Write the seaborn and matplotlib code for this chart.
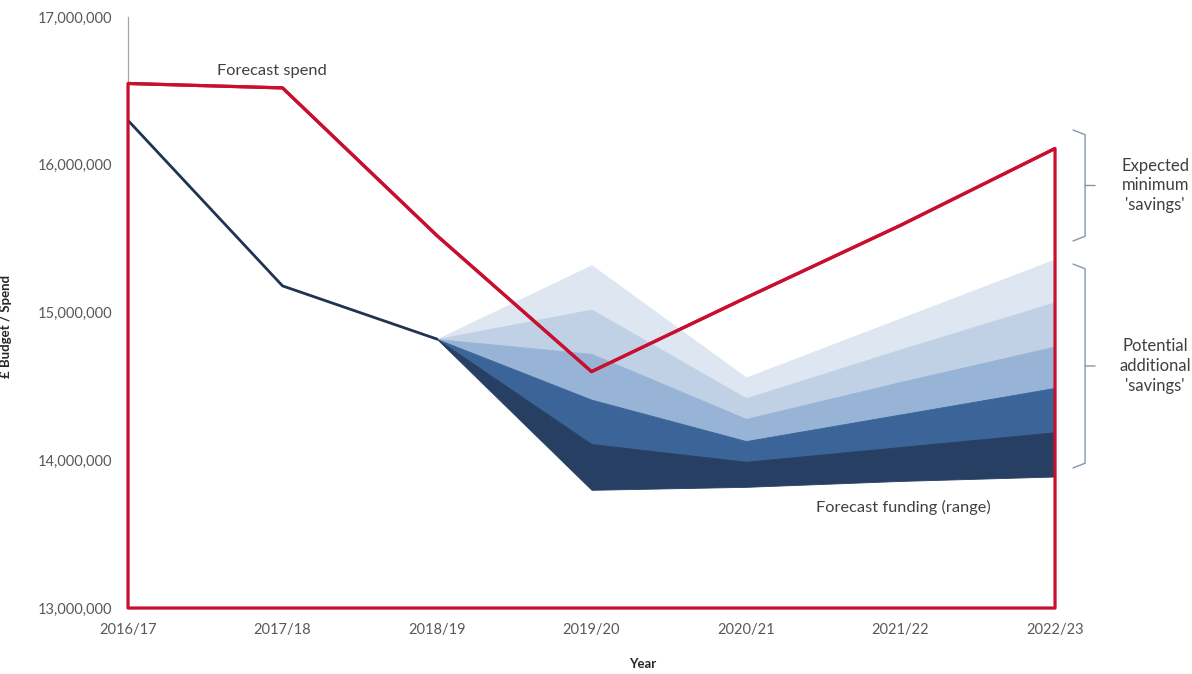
import numpy as np
import pandas as pd
import matplotlib.pyplot as plt
import seaborn as sns

# Chart data
years = ["2016/17", "2017/18", "2018/19", "2019/20", "2020/21", "2021/22", "2022/23"]
spend = [16550000, 16520000, 15520000, 14600000, 15100000, 15590000, 16110000]
funding = [16300000, 15180000, 14820000]

# Forecast funding range from 2018/19 on, band edges from top to bottom
fanEdges = [
    [14820000, 15320000, 14560000, 14960000, 15360000],
    [14820000, 15020000, 14420000, 14750000, 15070000],
    [14820000, 14720000, 14280000, 14530000, 14770000],
    [14820000, 14410000, 14130000, 14310000, 14490000],
    [14820000, 14110000, 13990000, 14090000, 14190000],
    [14820000, 13800000, 13820000, 13860000, 13890000],
]
fanColours = ["#dde6f1", "#c0d1e6", "#97b3d5", "#3b6499", "#263f63"]

red = "#c8102e"
navy = "#1f3452"
grey = "#595959"

sns.set_style("white")
plt.rcParams["font.family"] = ["Lato", "DejaVu Sans"]

fig = plt.figure(figsize=(11.92, 6.74), dpi=100)
ax = fig.add_axes([0.1074, 0.0979, 0.7777, 0.8769])

xpos = np.arange(len(years))
fanX = xpos[2:]

# fan bands
for i in range(len(fanColours)):
    ax.fill_between(fanX, fanEdges[i + 1], fanEdges[i], facecolor=fanColours[i],
                    edgecolor=fanColours[i], lw=0.6, zorder=2)

# funding line up to 2018/19
fundDf = pd.DataFrame({"year": xpos[:3], "value": funding})
sns.lineplot(data=fundDf, x="year", y="value", ax=ax, color=navy, lw=2.0, zorder=3)

# forecast spend, drawn as an unfilled area like the original
spendDf = pd.DataFrame({"year": xpos, "value": spend})
sns.lineplot(data=spendDf, x="year", y="value", ax=ax, color=red, lw=2.3, zorder=4)
ax.fill_between(xpos, 13000000, spend, facecolor="none", edgecolor=red, lw=2.3,
                zorder=4, clip_on=False)

ax.set_xlim(0, len(years) - 1)
ax.set_ylim(13000000, 17000000)
ax.set_xticks(xpos)
ax.set_xticklabels(years)
ax.set_yticks(np.arange(13000000, 17000001, 1000000))
ax.yaxis.set_major_formatter(plt.FuncFormatter(lambda v, p: f"{v:,.0f}"))

ax.tick_params(axis="x", length=4, width=0.8, color="#a6a6a6", pad=7, labelsize=10.5, labelcolor=grey)
ax.tick_params(axis="y", length=0, pad=11, labelsize=10.5, labelcolor=grey)
for s in ["top", "right"]:
    ax.spines[s].set_visible(False)
for s in ["left", "bottom"]:
    ax.spines[s].set_color("#a6a6a6")
    ax.spines[s].set_linewidth(0.9)

ax.set_xlabel("Year", fontsize=9.5, fontweight="bold", color="#262626")
ax.xaxis.set_label_coords(0.555, -0.084)
ax.set_ylabel("£ Budget / Spend", fontsize=9.5, fontweight="bold", color="#262626")
ax.yaxis.set_label_coords(-0.125, 0.477)

# labels on the chart
ax.text(0.93, 16635000, "Forecast spend", fontsize=11.8, color="#404040", ha="center", va="center")
ax.text(5.016, 13682000, "Forecast funding (range)", fontsize=11.8, color="#404040",
        ha="center", va="center")

# braces on the right
braceColour = "#8497b0"
for top, bottom, label in [(0.8088, 0.621, "Expected\nminimum\n'savings'"),
                           (0.582, 0.237, "Potential\nadditional\n'savings'")]:
    mid = (top + bottom) / 2
    ax.plot([1.0194, 1.0324, 1.0324, 1.0432], [top, top - 0.008, mid, mid],
            transform=ax.transAxes, clip_on=False, color=braceColour, lw=1.0)
    ax.plot([1.0324, 1.0324, 1.0194], [mid, bottom + 0.008, bottom],
            transform=ax.transAxes, clip_on=False, color=braceColour, lw=1.0)
    ax.text(1.108, mid, label, transform=ax.transAxes, fontsize=12, color="#404040",
            ha="center", va="center", linespacing=1.3)

fig.savefig("out.png", dpi=100)
